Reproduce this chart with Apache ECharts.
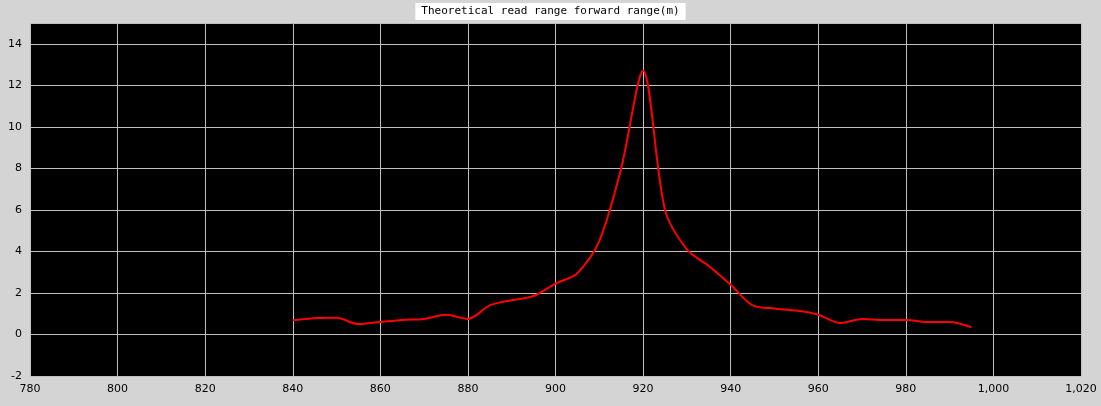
<!DOCTYPE html>
<html>
<head>
<meta charset="utf-8" />
<script src="https://cdn.jsdelivr.net/npm/echarts@6/dist/echarts.min.js"></script>
<style>body{margin:0;background:#d4d4d4;}</style>
</head>
<body>
<div id="chart" style="width:1101px;height:406px;"></div>
<script>
var freqs = [840,845,850,855,860,865,870,875,880,885,890,895,900,905,910,915,920,925,930,935,940,945,950,955,960,965,970,975,980,985,990,995];
var range = [0.68,0.78,0.8,0.5,0.6,0.7,0.75,0.95,0.75,1.4,1.65,1.85,2.45,2.95,4.5,8.0,12.7,6.0,4.1,3.3,2.4,1.4,1.25,1.15,0.95,0.55,0.75,0.7,0.7,0.6,0.6,0.35];

var chart = echarts.init(document.getElementById('chart'));
var data = [];
for (var i = 0; i < freqs.length; i++) data.push([freqs[i], range[i]]);
chart.setOption({
	backgroundColor: '#d4d4d4',
	animation: false,
	title: {
		text: 'Theoretical read range forward range(m)',
		left: 'center', top: 3,
		backgroundColor: '#fff', padding: [3, 6],
		textStyle: {fontFamily: 'DejaVu Sans Mono', fontSize: 11, fontWeight: 'normal', color: '#000'}
	},
	grid: {left: 30, right: 20, top: 23, bottom: 30, backgroundColor: '#000', show: true, borderWidth: 0},
	xAxis: {
		type: 'value', min: 780, max: 1020, interval: 20,
		axisLine: {show: false}, axisTick: {show: false},
		axisLabel: {color: '#000', fontFamily: 'DejaVu Sans', fontSize: 11},
		splitLine: {lineStyle: {color: '#c0c0c0'}}
	},
	yAxis: {
		type: 'value', min: -2, max: 15, interval: 2,
		axisLine: {show: false}, axisTick: {show: false},
		axisLabel: {color: '#000', fontFamily: 'DejaVu Sans', fontSize: 11, showMaxLabel: false},
		splitLine: {lineStyle: {color: '#c0c0c0'}}
	},
	series: [{
		type: 'line', data: data, smooth: 0.3, showSymbol: false,
		lineStyle: {color: '#ff0000', width: 2}
	}]
});
</script>
</body>
</html>
